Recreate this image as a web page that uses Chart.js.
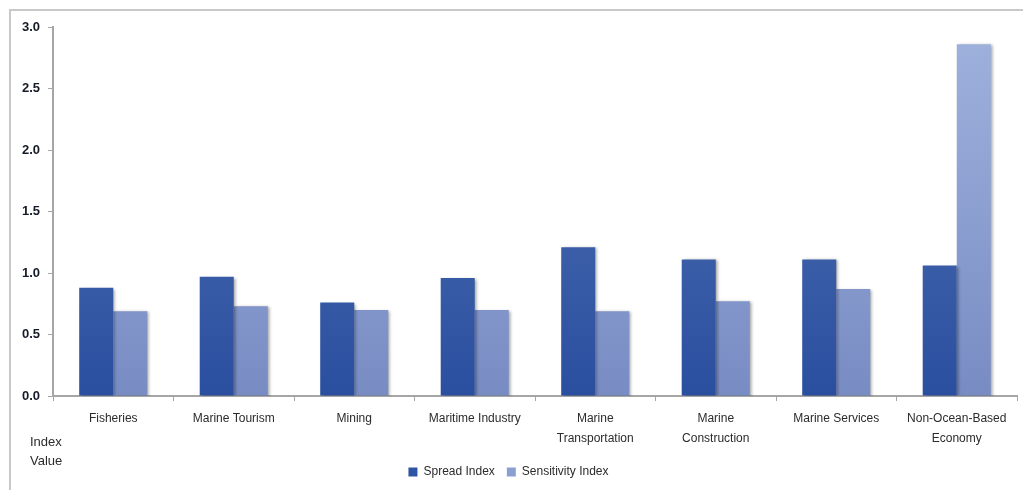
<!DOCTYPE html>
<html>
<head>
<meta charset="utf-8">
<script src="https://cdn.jsdelivr.net/npm/chart.js@4/dist/chart.umd.min.js"></script>
<style>
  html, body { margin: 0; padding: 0; background: #fff; }
  #wrap { position: relative; width: 1023px; height: 490px; overflow: hidden; }
  #frame { position: absolute; left: 9px; top: 9px; width: 1100px; height: 600px; border-left: 2px solid #c9c9c9; border-top: 2px solid #c9c9c9; box-sizing: border-box; }
  #chart { position: absolute; left: 0; top: 0; }
</style>
</head>
<body>
<div id="wrap">
  <div id="frame"></div>
  <canvas id="chart" width="1023" height="490"></canvas>
</div>
<script>
const categories = [
  "Fisheries",
  "Marine Tourism",
  "Mining",
  "Maritime Industry",
  ["Marine", "Transportation"],
  ["Marine", "Construction"],
  "Marine Services",
  ["Non-Ocean-Based", "Economy"],
];
const spreadIndex = [0.88, 0.97, 0.76, 0.96, 1.21, 1.11, 1.11, 1.06];
const sensitivityIndex = [0.69, 0.73, 0.70, 0.70, 0.69, 0.77, 0.87, 2.86];
const yTicks = [0, 0.5, 1.0, 1.5, 2.0, 2.5, 3.0];
const axisTitle = ["Index", "Value"];

const axisColor = "#a6a6a6";
const textColor = "#2b2b2b";
const fontFamily = "'Liberation Sans', Arial, sans-serif";

function barGradient(top, bottom) {
  return function (context) {
    const { chart } = context;
    const area = chart.chartArea;
    if (!area) return bottom;
    const g = chart.ctx.createLinearGradient(0, area.top, 0, area.bottom);
    g.addColorStop(0, top);
    g.addColorStop(1, bottom);
    return g;
  };
}

const barShadow = {
  id: "barShadow",
  beforeDatasetsDraw(chart) {
    const ctx = chart.ctx;
    ctx.save();
    ctx.shadowColor = "rgba(0, 0, 0, 0.35)";
    ctx.shadowBlur = 3;
    ctx.shadowOffsetX = 2;
    ctx.shadowOffsetY = 1;
  },
  afterDatasetsDraw(chart) {
    chart.ctx.restore();
  },
};

const indexLabel = {
  id: "indexLabel",
  afterDraw(chart) {
    const ctx = chart.ctx;
    ctx.save();
    ctx.fillStyle = textColor;
    ctx.font = "13px " + fontFamily;
    ctx.textBaseline = "middle";
    axisTitle.forEach((line, i) => ctx.fillText(line, 30, 442 + i * 19));
    ctx.restore();
  },
};

const chartConfig = {
  type: "bar",
  data: {
    labels: categories,
    datasets: [
      {
        label: "Spread Index",
        data: spreadIndex,
        backgroundColor: barGradient("#5674b6", "#2a4f9f"),
        borderWidth: 0,
        barPercentage: 1,
        categoryPercentage: 0.565,
      },
      {
        label: "Sensitivity Index",
        data: sensitivityIndex,
        backgroundColor: barGradient("#9fb2dd", "#788cc4"),
        borderWidth: 0,
        barPercentage: 1,
        categoryPercentage: 0.565,
      },
    ],
  },
  options: {
    responsive: false,
    animation: false,
    layout: {
      padding: { top: 27, right: 6, left: 0, bottom: 2 },
    },
    scales: {
      x: {
        afterFit(scale) {
          scale.height = 58;
        },
        border: { display: true, color: axisColor, width: 2 },
        grid: {
          offset: true,
          drawOnChartArea: false,
          drawTicks: true,
          tickLength: 5,
          color: axisColor,
        },
        ticks: {
          autoSkip: false,
          maxRotation: 0,
          color: textColor,
          padding: 8,
          font: { family: fontFamily, size: 12, lineHeight: 1.65 },
        },
      },
      y: {
        min: 0,
        max: 3,
        afterFit(scale) {
          scale.width = 53;
        },
        afterBuildTicks(scale) {
          scale.ticks = yTicks.map(v => ({ value: v }));
        },
        border: { display: true, color: axisColor, width: 2 },
        grid: {
          drawOnChartArea: false,
          drawTicks: true,
          tickLength: 5,
          color: axisColor,
        },
        ticks: {
          color: "#151a28",
          padding: 8,
          font: { family: fontFamily, size: 13, weight: "bold" },
          callback: v => Number(v).toFixed(1),
        },
      },
    },
    plugins: {
      legend: {
        position: "bottom",
        labels: {
          boxWidth: 9,
          boxHeight: 9,
          padding: 12,
          color: textColor,
          font: { family: fontFamily, size: 12 },
          generateLabels(chart) {
            const fills = ["#2f54a3", "#8b9fd3"];
            return chart.data.datasets.map((ds, i) => ({
              text: ds.label,
              fillStyle: fills[i],
              strokeStyle: fills[i],
              lineWidth: 0,
              datasetIndex: i,
              fontColor: textColor,
            }));
          },
        },
      },
      tooltip: { enabled: false },
    },
  },
  plugins: [barShadow, indexLabel],
};

new Chart(document.getElementById("chart"), chartConfig);
</script>
</body>
</html>
